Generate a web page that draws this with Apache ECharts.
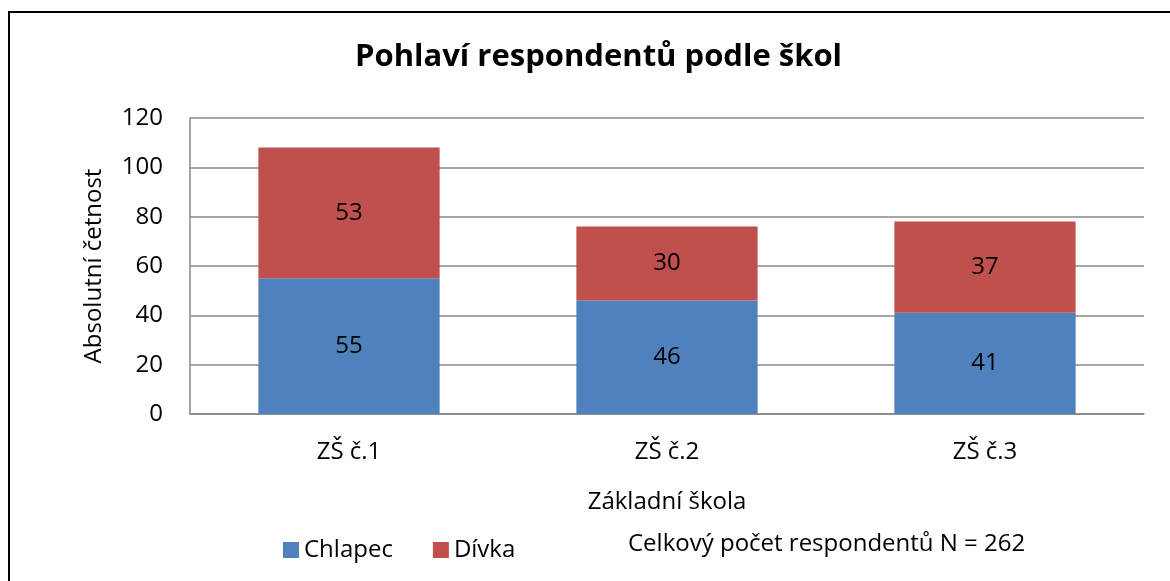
<!DOCTYPE html>
<html><head><meta charset="utf-8">
<script src="https://cdn.jsdelivr.net/npm/echarts@6/dist/echarts.min.js"></script>
<style>html,body{margin:0;padding:0;background:#fff}#c{width:1170px;height:581px}</style>
</head><body><div id="c"></div>
<script>
const categories = ['ZŠ č.1', 'ZŠ č.2', 'ZŠ č.3'];
const chlapec = [55, 46, 41];
const divka = [53, 30, 37];
const yTicks = [0, 20, 40, 60, 80, 100, 120];
const FONT = 'Open Sans';
const FS = 24;
const chart = echarts.init(document.getElementById('c'));
const lbl = {show: true, position: 'inside', color: '#000', fontSize: FS, fontFamily: FONT};
chart.setOption({
  animation: false,
  backgroundColor: '#fff',
  title: {text: 'Pohlaví respondentů podle škol', left: 350, top: 37,
    textStyle: {fontFamily: FONT, fontWeight: 'bold', fontSize: 31, color: '#000'}},
  grid: {left: 190, right: 26, top: 118, bottom: 167},
  legend: {left: 278, top: 533, itemWidth: 16, itemHeight: 16, itemGap: 40, icon: 'rect',
    textStyle: {fontFamily: FONT, fontSize: FS, color: '#000'},
    data: ['Chlapec', 'Dívka']},
  xAxis: {type: 'category', data: categories,
    axisLine: {lineStyle: {color: '#888', width: 1.5}}, axisTick: {show: false},
    axisLabel: {fontFamily: FONT, fontSize: FS, color: '#000', margin: 26},
    name: 'Základní škola', nameLocation: 'middle', nameGap: 76,
    nameTextStyle: {fontFamily: FONT, fontSize: FS, color: '#000'}},
  yAxis: {type: 'value', min: yTicks[0], max: yTicks[yTicks.length-1], interval: 20,
    axisLine: {show: true, lineStyle: {color: '#888', width: 1.5}}, axisTick: {show: false},
    splitLine: {lineStyle: {color: '#888', width: 1.5}},
    axisLabel: {fontFamily: FONT, fontSize: FS, color: '#000', margin: 27},
    name: 'Absolutní četnost', nameLocation: 'middle', nameGap: 84,
    nameTextStyle: {fontFamily: FONT, fontSize: FS, color: '#000'}},
  series: [
    {name: 'Chlapec', type: 'bar', stack: 's', data: chlapec, barWidth: '57%',
      itemStyle: {color: '#4F81BD'}, label: lbl},
    {name: 'Dívka', type: 'bar', stack: 's', data: divka, barWidth: '57%',
      itemStyle: {color: '#C0504D'}, label: lbl}
  ],
  graphic: [
    {type: 'rect', shape: {x: 9, y: 12, width: 1170, height: 600}, style: {fill: 'none', stroke: '#000', lineWidth: 2}, z: 100},
    {type: 'text', left: 628, top: 532, style: {text: 'Celkový počet respondentů N = 262', fontFamily: FONT, fontSize: FS, fill: '#000'}}
  ]
});
</script></body></html>
